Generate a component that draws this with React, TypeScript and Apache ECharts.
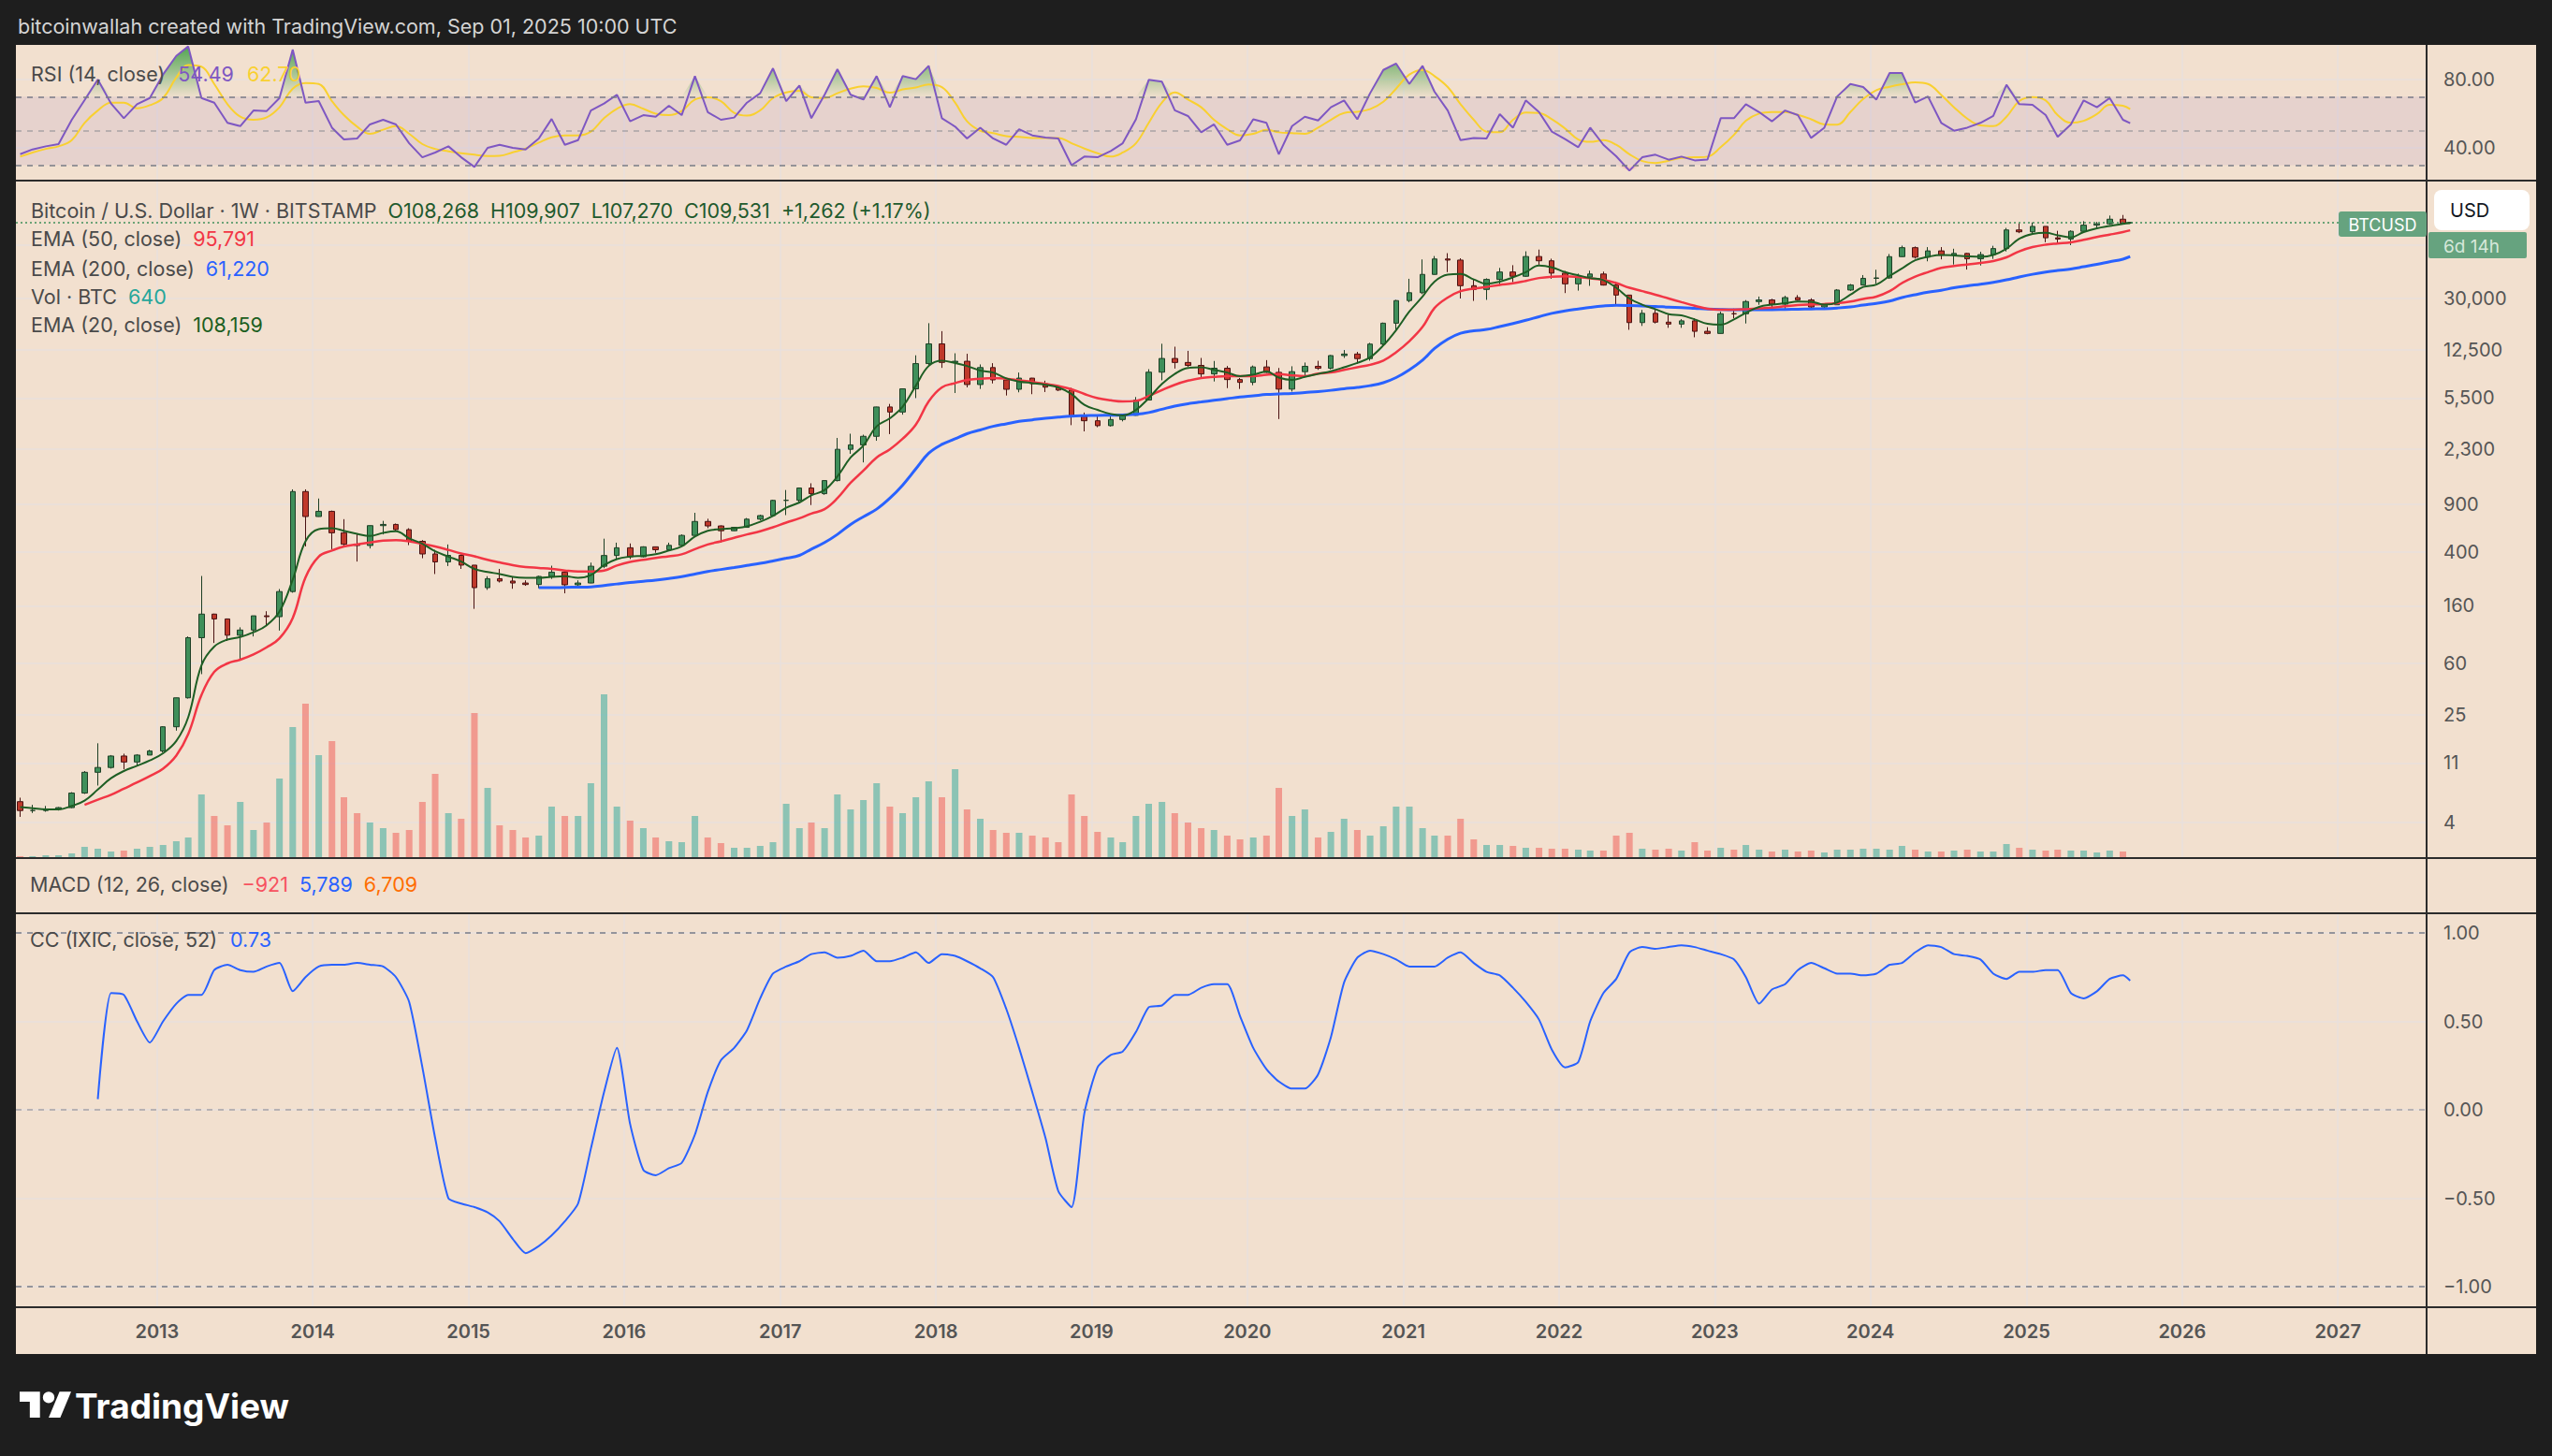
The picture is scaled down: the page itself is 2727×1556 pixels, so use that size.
import React, { useEffect, useRef } from 'react';
import * as echarts from 'echarts';

// ---------- DATA (monthly samples) ----------
const months = [
  '2012-02-15','2012-03-15','2012-04-15','2012-05-15','2012-06-15','2012-07-15','2012-08-15','2012-09-15','2012-10-15','2012-11-15','2012-12-15',
  '2013-01-15','2013-02-15','2013-03-15','2013-04-15','2013-05-15','2013-06-15','2013-07-15','2013-08-15','2013-09-15','2013-10-15','2013-11-15','2013-12-15',
  '2014-01-15','2014-02-15','2014-03-15','2014-04-15','2014-05-15','2014-06-15','2014-07-15','2014-08-15','2014-09-15','2014-10-15','2014-11-15','2014-12-15',
  '2015-01-15','2015-02-15','2015-03-15','2015-04-15','2015-05-15','2015-06-15','2015-07-15','2015-08-15','2015-09-15','2015-10-15','2015-11-15','2015-12-15',
  '2016-01-15','2016-02-15','2016-03-15','2016-04-15','2016-05-15','2016-06-15','2016-07-15','2016-08-15','2016-09-15','2016-10-15','2016-11-15','2016-12-15',
  '2017-01-15','2017-02-15','2017-03-15','2017-04-15','2017-05-15','2017-06-15','2017-07-15','2017-08-15','2017-09-15','2017-10-15','2017-11-15','2017-12-15',
  '2018-01-15','2018-02-15','2018-03-15','2018-04-15','2018-05-15','2018-06-15','2018-07-15','2018-08-15','2018-09-15','2018-10-15','2018-11-15','2018-12-15',
  '2019-01-15','2019-02-15','2019-03-15','2019-04-15','2019-05-15','2019-06-15','2019-07-15','2019-08-15','2019-09-15','2019-10-15','2019-11-15','2019-12-15',
  '2020-01-15','2020-02-15','2020-03-15','2020-04-15','2020-05-15','2020-06-15','2020-07-15','2020-08-15','2020-09-15','2020-10-15','2020-11-15','2020-12-15',
  '2021-01-15','2021-02-15','2021-03-15','2021-04-15','2021-05-15','2021-06-15','2021-07-15','2021-08-15','2021-09-15','2021-10-15','2021-11-15','2021-12-15',
  '2022-01-15','2022-02-15','2022-03-15','2022-04-15','2022-05-15','2022-06-15','2022-07-15','2022-08-15','2022-09-15','2022-10-15','2022-11-15','2022-12-15',
  '2023-01-15','2023-02-15','2023-03-15','2023-04-15','2023-05-15','2023-06-15','2023-07-15','2023-08-15','2023-09-15','2023-10-15','2023-11-15','2023-12-15',
  '2024-01-15','2024-02-15','2024-03-15','2024-04-15','2024-05-15','2024-06-15','2024-07-15','2024-08-15','2024-09-15','2024-10-15','2024-11-15','2024-12-15',
  '2025-01-15','2025-02-15','2025-03-15','2025-04-15','2025-05-15','2025-06-15','2025-07-15','2025-08-15','2025-09-01',
];

// [open, high, low, close] in USD
const ohlc = [
  [5.7,6.1,4.4,4.9],[4.9,5.4,4.7,4.9],[4.9,5.3,4.8,5.0],[5.0,5.2,4.9,5.15],[5.15,6.7,5.1,6.6],[6.6,9.6,6.5,9.4],[9.4,15.4,7.5,10.2],[10.2,12.6,10.0,12.4],[12.4,12.9,9.9,11.2],[11.2,12.8,10.4,12.6],[12.6,13.8,12.6,13.5],
  [13.5,20.6,13.2,20.4],[20.4,33.5,19.1,33.4],[33.4,95,33,93],[93,266,50,139],[139,140,85,128],[128,129,88,97],[97,111,65,106],[106,135,95,135],[135,146,114,133],[133,213,105,204],[204,1163,200,1120],[1120,1163,440,732],
  [732,995,730,800],[800,810,420,555],[555,700,440,457],[457,545,340,447],[447,630,425,627],[627,680,540,640],[640,650,570,586],[586,600,450,480],[480,490,360,387],[387,415,275,338],[338,455,315,378],[378,385,300,320],
  [320,320,152,218],[218,265,210,254],[254,300,238,244],[244,261,214,236],[236,247,225,230],[230,267,216,264],[264,317,253,284],[284,285,198,229],[229,247,225,236],[236,334,235,314],[314,502,304,377],[377,469,350,430],
  [430,463,355,369],[369,441,365,437],[437,439,395,416],[416,469,413,448],[448,540,440,531],[531,780,531,673],[673,705,600,624],[624,630,470,575],[575,614,572,609],[609,714,605,700],[700,755,686,744],[744,975,740,964],
  [964,1150,750,965],[965,1200,925,1190],[1190,1290,890,1080],[1080,1350,1060,1350],[1350,2790,1330,2300],[2300,3000,2130,2480],[2480,2950,1840,2870],[2870,4750,2660,4730],[4730,4980,2980,4340],[4340,6470,4150,6440],[6440,11400,5500,9900],[9900,19700,9500,13850],
  [13850,17200,9200,10100],[10100,11800,6000,10300],[10300,11700,6600,6930],[6930,9760,6430,9250],[9250,9970,7060,7500],[7500,7760,5750,6390],[6390,8500,6070,7730],[7730,7760,5880,7030],[7030,7400,6100,6630],[6630,6800,6200,6310],[6310,6550,3470,4020],[4020,4300,3120,3740],
  [3740,4070,3350,3440],[3440,4200,3390,3820],[3820,4100,3700,4100],[4100,5600,4080,5320],[5320,9000,5320,8550],[8550,13880,7450,10800],[10800,13200,9100,10090],[10090,12300,9350,9600],[9600,10900,7750,8300],[8300,10350,7300,9150],[9150,9500,6520,7540],[7540,7750,6430,7190],
  [7190,9580,6850,9350],[9350,10500,8450,8530],[8530,9190,3850,6410],[6410,9460,6150,8630],[8630,10080,8110,9450],[9450,10380,8900,9140],[9140,11450,8970,11350],[11350,12470,10900,11650],[11650,12080,9880,10780],[10780,14100,10400,13800],[13800,19900,13200,19700],[19700,29300,17600,28950],
  [28950,41950,28100,33100],[33100,58350,32300,45200],[45200,61800,45000,58800],[58800,64900,47000,57700],[57700,59500,30000,37300],[37300,41300,28800,35000],[35000,42300,29300,41500],[41500,50500,37300,47100],[47100,52900,39600,43800],[43800,67000,43300,61300],[61300,69000,53300,57000],[57000,59100,42000,46200],
  [46200,47900,32900,38500],[38500,45800,34300,43200],[43200,48200,37200,45500],[45500,47400,37400,37700],[37700,40000,26700,31800],[31800,31900,17600,19900],[19900,24700,18800,23300],[23300,25200,19600,20050],[20050,22800,18200,19400],[19400,21100,18200,20500],[20500,21450,15500,17150],[17150,18400,16300,16540],
  [16540,23950,16500,23140],[23140,25250,21400,23130],[23130,29200,19600,28470],[28470,31000,26950,29250],[29250,29850,25800,27220],[27220,31430,24800,30470],[30470,31800,28900,29230],[29230,30100,25300,25940],[25940,27500,24900,26960],[26960,35200,26950,34650],[34650,38400,34100,37720],[37720,44700,37600,42280],
  [42280,48970,38550,42580],[42580,64000,41900,61170],[61170,73800,60800,71300],[71300,72750,59200,60650],[60650,71950,56500,67500],[67500,72000,58400,62700],[62700,70000,53500,64600],[64600,65100,49100,58950],[58950,66500,52600,63330],[63330,73600,58900,70200],[70200,99800,66800,96400],[96400,108300,91300,93400],
  [93400,109400,89200,102400],[102400,102500,78200,84350],[84350,95000,76600,82550],[82550,95750,74400,94200],[94200,111900,93400,104600],[104600,110500,98200,107100],[107100,123200,105100,115750],[115750,124400,107300,108250],[108268,109907,107270,109531],
];

const ema20 = [
  5.2,5.1,5.0,5.0,5.3,5.8,7.0,8.5,9.6,10.5,11.5,
  13,16,24,58,80,90,94,102,115,145,250,480,
  590,600,575,545,525,555,570,505,460,405,370,340,
  300,285,275,262,258,258,262,265,258,270,320,355,
  370,375,385,410,440,520,575,590,600,620,670,740,
  850,930,1050,1150,1450,2000,2450,3400,3900,4750,6800,9500,
  10400,10000,9500,8800,8500,7700,7300,7100,6900,6600,5900,4900,
  4500,4200,4100,4500,5500,7000,8300,9200,9300,8900,8500,8000,
  8200,8650,7800,7500,7900,8300,8700,9300,10000,11000,13500,17500,
  24000,31000,40000,45000,45500,41500,38500,40000,43000,47000,52500,51000,
  47000,44500,42500,41000,36000,30000,27000,25000,23000,22500,21000,19500,
  19200,21000,23500,26000,27000,27700,28500,28400,27000,28000,32000,36500,
  38000,44000,50000,57500,61000,63000,62500,61500,61000,63000,70000,83000,
  90000,92000,88000,85000,93000,99000,103000,107000,108159,
];

const ema50 = [
  null,null,null,null,null,5.4,5.9,6.4,7.1,7.9,8.8,
  10,12.5,18,35,52,60,64,70,79,92,130,260,
  370,410,440,455,470,485,490,480,460,440,415,390,
  372,350,335,320,310,305,300,292,287,287,292,318,
  338,350,362,372,385,420,455,480,510,540,570,610,
  660,710,770,830,1000,1300,1600,2000,2300,2750,3500,5200,
  6600,7100,7500,7650,7750,7650,7450,7250,7000,6750,6400,5900,
  5500,5300,5200,5250,5700,6300,6900,7400,7750,7900,8000,8000,
  8000,8200,8300,8100,8000,8350,8500,8900,9300,9700,10400,12000,
  14500,18500,25500,30500,34000,35500,36500,37800,38800,40500,42500,43500,
  43800,43200,42300,41200,39000,36000,34000,32000,30000,28200,26500,25200,
  24800,24800,25000,25400,25700,26300,26800,27100,27300,27700,28500,29800,
  31000,34000,39000,43500,47000,50500,52200,53500,55000,56800,60500,67000,
  72000,75000,76500,78000,81500,85500,89000,93000,95791,
];

const ema200 = [
  null,null,null,null,null,null,null,null,null,null,null,
  null,null,null,null,null,null,null,null,null,null,null,null,
  null,null,null,null,null,null,null,null,null,null,null,null,
  null,null,null,null,null,218,218,219,220,221,226,232,
  238,243,248,255,263,275,287,297,307,318,330,344,
  360,378,420,470,540,640,730,830,1000,1250,1650,2150,
  2500,2750,3000,3200,3400,3550,3700,3800,3900,3980,4050,4080,
  4100,4110,4130,4170,4300,4550,4800,5000,5150,5300,5450,5600,
  5720,5850,5900,5950,6050,6150,6280,6450,6600,6800,7150,7800,
  8900,10500,12800,15000,16600,17300,17700,18600,19600,20700,22000,23300,
  24300,25100,25800,26400,26700,26600,26400,26200,25900,25700,25400,25100,
  24900,24800,24800,24800,24800,24900,25000,25100,25200,25500,26000,26800,
  27600,28700,30500,32000,33400,34500,36000,37200,38300,39500,41200,43300,
  45300,47000,48300,49600,51500,53600,56000,58600,61220,
];

// relative weekly volume (bar height)
const volume = [
  2,2,3,3,5,12,10,7,8,10,12,
  14,18,22,68,45,35,60,30,38,85,140,165,
  110,125,65,48,38,32,27,30,60,90,48,42,
  155,75,35,30,22,24,55,45,45,80,175,55,
  40,32,22,18,17,45,22,16,11,11,13,17,
  58,32,38,32,68,52,62,80,55,48,65,82,
  65,95,52,42,30,27,27,24,22,17,68,45,
  28,22,17,45,58,60,48,38,32,30,24,20,
  22,24,75,45,52,22,28,42,30,24,34,55,
  55,32,24,24,42,20,14,14,13,11,11,10,
  10,9,8,8,24,27,10,9,10,8,17,8,
  11,9,14,9,7,9,7,8,6,9,9,10,
  10,9,13,9,7,7,8,9,7,7,15,11,
  9,8,9,8,8,6,8,7,1,
];

const rsi = [
  36.4,39.2,41.0,42.3,56.5,68,80,66,57.4,65.6,69.2,
  82.9,93.8,99.3,69.2,66.5,54.7,52.8,61.9,61.6,69.2,97.5,66.5,
  67.4,51.9,45.0,45.6,53.8,56.5,53.8,42.8,34.6,37.4,41.0,34.6,
  29,40.1,41.9,40.1,39.2,45.6,57,41.9,44.6,61.9,66,71.1,
  55.6,59.2,58.3,64.7,59.2,82,61.0,56.5,57.8,66.5,72.0,86.5,
  67.4,76.5,57.4,71.1,86.0,71.1,68.3,82,63.8,82,80.2,88,
  57.4,52.5,45.6,51.9,45.6,41.9,51.0,47.4,46.1,45.6,30,35,
  34.6,38.3,42.8,56.8,79.8,78.7,62.0,58.7,49.2,53.8,41.9,44.5,
  56.8,54.7,36.4,52.8,58.3,56.1,63.8,67.8,56.8,72.0,85.6,89.3,
  77.4,88,72.9,61.9,44.6,45.9,45.6,59.8,51.9,67.8,61.0,49.6,
  45.2,40.5,51.9,41.9,35.2,26.8,34.6,36.1,33.2,35.0,32.8,33.3,
  57.4,57.4,65.6,61.0,55.6,61.9,59.2,45.9,51.9,70.1,77.4,75.6,
  68.3,83.8,83.8,66.5,70.1,54.7,50.1,51.9,54.7,58.7,76.9,65.6,
  65.2,59.2,46.5,53.8,67.8,63.8,69.2,56.5,54.49,
];

const rsiMa = [
  35.0,37.4,39.5,41,44.6,54.7,61.9,66.5,66.5,63.2,65.0,
  69.2,81.1,88.4,87.5,77.4,65.6,58.3,56.5,57.9,63.8,74.7,78.0,
  77.4,67.4,59.2,52.5,48.3,50.7,52.8,48.3,42.3,39.5,38.1,37.0,
  36.1,35.4,35.5,37.5,39.7,43.2,46.3,47.4,47.4,49.6,57.4,62.9,
  65.6,62.9,60.1,59.2,61.6,68.3,69.6,67.4,60.5,58.9,62.0,69.2,
  72.5,73.4,69.6,69.2,72.0,74.7,76.0,75.1,72.3,74.2,75.4,77.1,
  75.6,66.5,55.6,50.1,48.7,47.0,46.5,45.9,45.9,45.9,42.8,39.7,
  37.0,35.0,37.4,42.8,54.7,66.5,72.5,68.3,63.8,56.5,51.0,47.4,
  48.3,50.7,49.2,48.7,48.3,51.9,56.5,60.5,61.2,62.7,67.0,74.7,
  82.9,85.6,82.0,75.6,65.6,56.5,49.6,49.2,56.5,60.7,60.5,56.8,
  51.4,45.0,43.6,44.6,41.9,36.4,32.4,31.3,32.6,34.3,34.6,35.0,
  40.5,47.7,55.9,60.1,61.0,61.0,59.4,56.8,53.8,53.6,61.0,68.7,
  73.8,75.8,77.2,78.3,77.4,71.0,63.8,57.2,53.2,52.8,58.3,67.4,
  69.8,67.8,59.2,54.7,55.9,59.8,65.2,64.7,62.70,
];

const cc = [
  null,null,null,null,null,null,0.06,0.66,0.65,0.50,0.38,
  0.50,0.60,0.65,0.65,0.79,0.82,0.79,0.78,0.81,0.83,0.67,0.75,
  0.81,0.82,0.82,0.83,0.82,0.81,0.75,0.61,0.24,-0.16,-0.50,-0.53,
  -0.55,-0.58,-0.63,-0.73,-0.81,-0.77,-0.71,-0.63,-0.53,-0.22,0.10,0.35,
  -0.08,-0.34,-0.37,-0.33,-0.30,-0.14,0.10,0.28,0.35,0.45,0.63,0.77,
  0.81,0.84,0.88,0.89,0.86,0.87,0.90,0.84,0.84,0.86,0.89,0.83,
  0.88,0.87,0.84,0.80,0.75,0.57,0.35,0.10,-0.16,-0.46,-0.55,-0.02,
  0.24,0.31,0.33,0.44,0.58,0.59,0.65,0.65,0.69,0.71,0.71,0.53,
  0.35,0.23,0.16,0.12,0.12,0.20,0.41,0.72,0.86,0.90,0.88,0.85,
  0.81,0.81,0.81,0.86,0.89,0.83,0.78,0.76,0.69,0.61,0.51,0.34,
  0.24,0.27,0.50,0.66,0.74,0.89,0.92,0.91,0.92,0.93,0.92,0.90,
  0.88,0.85,0.75,0.60,0.68,0.71,0.79,0.83,0.80,0.77,0.77,0.76,
  0.77,0.82,0.83,0.89,0.93,0.92,0.88,0.87,0.85,0.77,0.74,0.78,
  0.78,0.79,0.79,0.66,0.63,0.67,0.74,0.76,0.73,
];

const priceTicks = [4, 11, 25, 60, 160, 400, 900, 2300, 5500, 12500, 30000, 75000];
const rsiTicks = [40, 80];
const ccTicks = [-1, -0.5, 0, 0.5, 1];
const yearTicks = [2013, 2014, 2015, 2016, 2017, 2018, 2019, 2020, 2021, 2022, 2023, 2024, 2025, 2026, 2027];
const lastClose = 109531;

// ---------- STYLE ----------
const FONT = "Inter, 'Noto Sans', Roboto, sans-serif";
const BG = '#f2e0cf';
const FRAME = '#1e1e1e';
const GRIDLINE = '#e9e1dc';
const SEP = '#2c2c2c';
const LABEL = '#555555';
const X_MIN = Date.UTC(2012, 1, 5);
const X_MAX = Date.UTC(2027, 6, 28);
const GL = 17;
const GW = 2576;
const LEG = 21.5;

const TV_LOGO = 'M14 22H7V11H0V4h14v18zM28 22h-8l7.5-18h8L28 22zM24 8a4 4 0 1 1-8 0a4 4 0 1 1 8 0z';

function legend(x: number, y: number, parts: [string, string, number][], size = LEG) {
  const rich: Record<string, any> = {};
  let text = '';
  parts.forEach(([s, color, gap], i) => {
    const k = 'p' + i;
    rich[k] = { fill: color, fontSize: size, fontFamily: FONT, padding: [0, 0, 0, gap] };
    text += '{' + k + '|' + s + '}';
  });
  return { type: 'text', x, y, z: 120, style: { text, rich, verticalAlign: 'middle', font: size + 'px ' + FONT } };
}

function buildOption() {
  const t = months.map((d) => Date.parse(d));
  const lg = (v: number) => Math.log10(v);
  const pts = (arr: (number | null)[], f: (v: number) => number) =>
    t.map((x, i) => (arr[i] == null ? null : [x, f(arr[i] as number)])).filter((p) => p !== null);
  const yearVals = yearTicks.map((y) => Date.UTC(y, 0, 1));

  const xAxis = (gridIndex: number, showLabel: boolean, showSplit: boolean) => ({
    type: 'value',
    gridIndex,
    min: X_MIN,
    max: X_MAX,
    axisLine: { show: false },
    axisTick: { show: false, customValues: yearVals },
    axisLabel: {
      show: showLabel,
      customValues: yearVals,
      formatter: (v: number) => String(new Date(v).getUTCFullYear()),
      margin: 16,
      color: LABEL,
      fontSize: 20,
      fontWeight: 600,
      fontFamily: FONT,
    },
    splitLine: { show: showSplit, lineStyle: { color: GRIDLINE, width: 1.5 } },
  });

  const yLabel = (fmt: (v: number) => string, vals: number[]) => ({
    axisTick: { show: false, customValues: vals },
    axisLabel: { customValues: vals, formatter: fmt, margin: 18, color: LABEL, fontSize: 20, fontFamily: FONT },
    axisLine: { show: false },
    splitLine: { show: true, lineStyle: { color: GRIDLINE, width: 1.5 } },
  });

  const greenGrad = new echarts.graphic.LinearGradient(0, 48, 0, 102, [
    { offset: 0, color: 'rgba(67,160,71,0.95)' },
    { offset: 1, color: 'rgba(67,160,71,0.04)' },
  ], true);
  const redGrad = new echarts.graphic.LinearGradient(0, 177, 0, 193, [
    { offset: 0, color: 'rgba(242,54,69,0.05)' },
    { offset: 1, color: 'rgba(242,54,69,0.7)' },
  ], true);

  const dash = [6, 6];

  const graphic: any[] = [
    // dark frame
    { type: 'rect', z: 100, shape: { x: 0, y: 0, width: 2727, height: 48 }, style: { fill: FRAME } },
    { type: 'rect', z: 100, shape: { x: 0, y: 0, width: GL, height: 1556 }, style: { fill: FRAME } },
    { type: 'rect', z: 100, shape: { x: 2710, y: 0, width: 17, height: 1556 }, style: { fill: FRAME } },
    { type: 'rect', z: 100, shape: { x: 0, y: 1447, width: 2727, height: 109 }, style: { fill: FRAME } },
    // pane separators
    ...[193, 917, 976, 1397].map((y) => ({ type: 'line', z: 101, shape: { x1: GL, y1: y, x2: 2710, y2: y }, style: { stroke: SEP, lineWidth: 2 } })),
    { type: 'line', z: 101, shape: { x1: 2593, y1: 48, x2: 2593, y2: 1447 }, style: { stroke: SEP, lineWidth: 2 } },
    // header
    { type: 'text', z: 110, x: 19, y: 28, style: { text: 'bitcoinwallah created with TradingView.com, Sep 01, 2025 10:00 UTC', fill: '#d4d4d4', font: '21.5px ' + FONT, verticalAlign: 'middle' } },
    // legends
    legend(33, 79, [['RSI (14, close)', '#4a4a4a', 0], ['54.49', '#7e57c2', 14], ['62.70', '#f9d030', 14]]),
    legend(33, 225, [
      ['Bitcoin / U.S. Dollar · 1W · BITSTAMP', '#4a4a4a', 0],
      ['O108,268', '#1f5a2d', 12], ['H109,907', '#1f5a2d', 12], ['L107,270', '#1f5a2d', 12],
      ['C109,531', '#1f5a2d', 12], ['+1,262 (+1.17%)', '#1f5a2d', 12],
    ]),
    legend(33, 255, [['EMA (50, close)', '#4a4a4a', 0], ['95,791', '#f23645', 12]]),
    legend(33, 287, [['EMA (200, close)', '#4a4a4a', 0], ['61,220', '#2962ff', 12]]),
    legend(33, 317, [['Vol · BTC', '#4a4a4a', 0], ['640', '#26a69a', 12]]),
    legend(33, 347, [['EMA (20, close)', '#4a4a4a', 0], ['108,159', '#1b5e20', 12]]),
    legend(32, 945, [['MACD (12, 26, close)', '#4a4a4a', 0], ['\u2212921', '#f7525f', 14], ['5,789', '#2962ff', 12], ['6,709', '#ff6d00', 12]]),
    legend(32, 1004, [['CC (IXIC, close, 52)', '#4a4a4a', 0], ['0.73', '#2962ff', 14]]),
    // price-scale badges
    { type: 'rect', z: 110, shape: { x: 2499, y: 226, width: 94, height: 27, r: 3 }, style: { fill: '#66a37f' } },
    { type: 'text', z: 111, x: 2546, y: 240, style: { text: 'BTCUSD', fill: '#ffffff', font: '18px ' + FONT, align: 'center', verticalAlign: 'middle' } },
    { type: 'rect', z: 110, shape: { x: 2595, y: 248, width: 105, height: 28, r: 2 }, style: { fill: '#66a37f' } },
    { type: 'text', z: 111, x: 2611, y: 263, style: { text: '6d 14h', fill: '#d6e8da', font: '19px ' + FONT, verticalAlign: 'middle' } },
    { type: 'rect', z: 112, shape: { x: 2601, y: 203, width: 102, height: 43, r: 8 }, style: { fill: '#ffffff' } },
    { type: 'text', z: 113, x: 2618, y: 225, style: { text: 'USD', fill: '#131722', font: '20px ' + FONT, verticalAlign: 'middle' } },
    // TradingView logo
    { type: 'tvlogo', z: 110, x: 21, y: 1481, scaleX: 1.55, scaleY: 1.55, style: { fill: '#ffffff' } },
    { type: 'text', z: 110, x: 80, y: 1502, style: { text: 'TradingView', fill: '#ffffff', font: 'bold 37px ' + FONT, verticalAlign: 'middle' } },
  ];

  return {
    animation: false,
    backgroundColor: BG,
    textStyle: { fontFamily: FONT },
    grid: [
      { left: GL, top: 48, width: GW, height: 145, outerBoundsMode: 'none' },
      { left: GL, top: 193, width: GW, height: 724, outerBoundsMode: 'none' },
      { left: GL, top: 697, width: GW, height: 220, outerBoundsMode: 'none' },
      { left: GL, top: 976, width: GW, height: 421, outerBoundsMode: 'none' },
    ],
    xAxis: [xAxis(0, false, true), xAxis(1, false, true), xAxis(2, false, false), xAxis(3, true, true)],
    yAxis: [
      { type: 'value', gridIndex: 0, position: 'right', min: 21, max: 100.2, ...yLabel((v) => v.toFixed(2), rsiTicks) },
      {
        type: 'value', gridIndex: 1, position: 'right', min: 0.3387, max: 5.349,
        ...yLabel((v) => {
          const p = Math.round(Math.pow(10, v));
          return p === 75000 ? '' : p.toLocaleString('en-US');
        }, priceTicks.map(lg)),
      },
      { type: 'value', gridIndex: 2, min: 0, max: 220, show: false, splitLine: { show: false } },
      {
        type: 'value', gridIndex: 3, position: 'right', min: -1.116, max: 1.111,
        ...yLabel((v) => (v < 0 ? '\u2212' : '') + Math.abs(v).toFixed(2), ccTicks),
      },
    ],
    graphic: { elements: graphic },
    series: [
      // RSI band, guides and oversold fill (area between the RSI and 30)
      {
        type: 'line', xAxisIndex: 0, yAxisIndex: 0, silent: true, z: 1, showSymbol: false,
        data: t.map((x, i) => [x, Math.min(rsi[i], 30)]), lineStyle: { opacity: 0 },
        areaStyle: { color: redGrad, opacity: 1, origin: 30 },
        markArea: { silent: true, itemStyle: { color: 'rgba(126,87,194,0.1)' }, data: [[{ yAxis: 30 }, { yAxis: 70 }]] },
        markLine: {
          silent: true, symbol: ['none', 'none'], label: { show: false },
          data: [
            { yAxis: 70, lineStyle: { color: '#787b86', type: dash, width: 1.5 } },
            { yAxis: 50, lineStyle: { color: 'rgba(120,123,134,0.55)', type: dash, width: 1.5 } },
            { yAxis: 30, lineStyle: { color: '#787b86', type: dash, width: 1.5 } },
          ],
        },
      },
      // overbought fill (area between 70 and the RSI)
      {
        type: 'line', xAxisIndex: 0, yAxisIndex: 0, silent: true, z: 2, showSymbol: false,
        data: t.map((x, i) => [x, Math.max(rsi[i], 70)]), lineStyle: { opacity: 0 },
        areaStyle: { color: greenGrad, opacity: 1, origin: 70 },
      },
      {
        name: 'RSI', type: 'line', xAxisIndex: 0, yAxisIndex: 0, z: 4, showSymbol: false,
        data: t.map((x, i) => [x, rsi[i]]), lineStyle: { color: '#7e57c2', width: 2 },
      },
      {
        name: 'RSI MA', type: 'line', xAxisIndex: 0, yAxisIndex: 0, z: 3, showSymbol: false, smooth: 0.4,
        data: t.map((x, i) => [x, rsiMa[i]]), lineStyle: { color: '#f9d030', width: 2 },
      },
      // price
      {
        name: 'BTCUSD', type: 'candlestick', xAxisIndex: 1, yAxisIndex: 1, z: 4, barWidth: 6,
        data: t.map((x, i) => [x, lg(ohlc[i][0]), lg(ohlc[i][3]), lg(ohlc[i][2]), lg(ohlc[i][1])]),
        itemStyle: { color: '#3f8f5a', color0: '#c0392b', borderColor: '#1d3f25', borderColor0: '#4a1212', borderWidth: 1 },
        markLine: {
          silent: true, symbol: ['none', 'none'], label: { show: false },
          data: [{ yAxis: lg(lastClose) }],
          lineStyle: { color: '#3f8f5a', type: [2, 3], width: 1.5 },
        },
      },
      {
        name: 'EMA200', type: 'line', xAxisIndex: 1, yAxisIndex: 1, z: 5, showSymbol: false, smooth: 0.4,
        data: pts(ema200, lg), lineStyle: { color: '#2962ff', width: 3 },
      },
      {
        name: 'EMA50', type: 'line', xAxisIndex: 1, yAxisIndex: 1, z: 5, showSymbol: false, smooth: 0.4,
        data: pts(ema50, lg), lineStyle: { color: '#f23645', width: 2.5 },
      },
      {
        name: 'EMA20', type: 'line', xAxisIndex: 1, yAxisIndex: 1, z: 6, showSymbol: false, smooth: 0.4,
        data: pts(ema20, lg), lineStyle: { color: '#1e5e24', width: 2 },
      },
      // volume
      {
        name: 'Vol', type: 'bar', xAxisIndex: 2, yAxisIndex: 2, z: 1, barWidth: 7,
        data: t.map((x, i) => ({
          value: [x, volume[i]],
          itemStyle: { color: ohlc[i][3] >= ohlc[i][0] ? 'rgba(38,166,154,0.5)' : 'rgba(239,83,80,0.5)' },
        })),
      },
      // correlation coefficient
      {
        name: 'CC', type: 'line', xAxisIndex: 3, yAxisIndex: 3, z: 4, showSymbol: false, smooth: 0.2,
        data: pts(cc, (v) => v), lineStyle: { color: '#2962ff', width: 2 },
        markLine: {
          silent: true, symbol: ['none', 'none'], label: { show: false },
          data: [
            { yAxis: 1, lineStyle: { color: '#787b86', type: dash, width: 1.5 } },
            { yAxis: 0, lineStyle: { color: 'rgba(120,123,134,0.6)', type: dash, width: 1.5 } },
            { yAxis: -1, lineStyle: { color: '#787b86', type: dash, width: 1.5 } },
          ],
        },
      },
    ],
  };
}

export default function App() {
  const ref = useRef<HTMLDivElement>(null);
  useEffect(() => {
    document.body.style.margin = '0';
    echarts.graphic.registerShape('tvlogo', echarts.graphic.extendPath(TV_LOGO, {}) as any);
    const chart = echarts.init(ref.current as HTMLDivElement, null, { renderer: 'svg' });
    chart.setOption(buildOption() as any);
    return () => chart.dispose();
  }, []);
  return <div ref={ref} style={{ position: 'fixed', left: 0, top: 0, width: 2727, height: 1556 }} />;
}
